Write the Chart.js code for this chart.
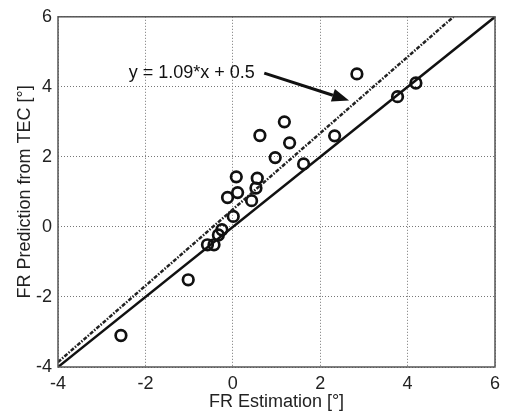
<!DOCTYPE html>
<html>
<head>
<meta charset="utf-8">
<title>FR Estimation vs Prediction</title>
<script src="https://cdn.jsdelivr.net/npm/chart.js@4"></script>
<style>
  html, body { margin: 0; padding: 0; background: #fff; }
  #wrap { width: 508px; height: 417px; }
</style>
</head>
<body>
<div id="wrap"><canvas id="chart" width="508" height="417"></canvas></div>
<script>
// ===== DATA =====
// measured points: FR estimation (x) vs FR prediction from TEC (y), in degrees
const estX = [-2.56, -1.02, -0.58, -0.43, -0.33, -0.25, 0.01, -0.12, 0.11, 0.08, 0.43, 0.53, 0.56,
              0.62, 0.97, 1.18, 1.30, 1.62, 2.33, 2.84, 3.77, 4.19];
const predY = [-3.10, -1.51, -0.51, -0.51, -0.23, -0.08, 0.30, 0.84, 0.98, 1.43, 0.75, 1.11, 1.39,
               2.61, 1.98, 3.00, 2.40, 1.80, 2.60, 4.37, 3.72, 4.11];

// reference line y = x and fitted line y = 1.09*x + 0.5 (end points)
const identityX = [-4, 6];
const identityY = [-4, 6];
const fitX = [-4, 5.05];
const fitY = [-3.86, 6];

// axis ticks
const tickValues = [-4, -2, 0, 2, 4, 6];

// annotation text and arrow (data coords: start, tip)
const noteText = 'y = 1.09*x + 0.5';
const noteAt = [-2.38, 4.4];
const arrowFrom = [0.72, 4.39];
const arrowTo = [2.66, 3.61];

// ===== BUILD DATASETS =====
function toPoints(xs, ys) {
  return xs.map(function(x, i) { return { x: x, y: ys[i] }; });
}

const font = "'Liberation Sans', Arial, sans-serif";

// frame + annotation plugin
const framePlugin = {
  id: 'frame',
  afterDatasetsDraw: function(chart) {
    const ctx = chart.ctx;
    const a = chart.chartArea;
    const sx = chart.scales.x;
    const sy = chart.scales.y;
    ctx.save();
    ctx.strokeStyle = '#555';
    ctx.lineWidth = 1.5;
    ctx.setLineDash([]);
    ctx.strokeRect(a.left, a.top, a.right - a.left, a.bottom - a.top);

    // annotation text
    ctx.fillStyle = '#111';
    ctx.font = '18px ' + font;
    ctx.textAlign = 'left';
    ctx.textBaseline = 'middle';
    ctx.fillText(noteText, sx.getPixelForValue(noteAt[0]), sy.getPixelForValue(noteAt[1]));

    // arrow
    const x1 = sx.getPixelForValue(arrowFrom[0]);
    const y1 = sy.getPixelForValue(arrowFrom[1]);
    const x2 = sx.getPixelForValue(arrowTo[0]);
    const y2 = sy.getPixelForValue(arrowTo[1]);
    const ang = Math.atan2(y2 - y1, x2 - x1);
    const headLen = 17;
    const headW = 6.5;
    const bx = x2 - headLen * Math.cos(ang);
    const by = y2 - headLen * Math.sin(ang);
    ctx.strokeStyle = '#111';
    ctx.lineWidth = 3;
    ctx.beginPath();
    ctx.moveTo(x1, y1);
    ctx.lineTo(bx, by);
    ctx.stroke();
    ctx.fillStyle = '#111';
    ctx.beginPath();
    ctx.moveTo(x2, y2);
    ctx.lineTo(bx + headW * Math.sin(ang), by - headW * Math.cos(ang));
    ctx.lineTo(bx - headW * Math.sin(ang), by + headW * Math.cos(ang));
    ctx.closePath();
    ctx.fill();
    ctx.restore();
  }
};

// ===== DRAW THE CHART =====
const ctx = document.getElementById('chart').getContext('2d');

new Chart(ctx, {
  type: 'scatter',
  data: {
    datasets: [
      {
        label: 'y = 1.09*x + 0.5',
        data: toPoints(fitX, fitY),
        showLine: true,
        borderColor: '#222',
        borderWidth: 2.5,
        borderDash: [4, 1.5, 1.5, 1.5],
        pointRadius: 0,
        fill: false
      },
      {
        label: 'y = x',
        data: toPoints(identityX, identityY),
        showLine: true,
        borderColor: '#111',
        borderWidth: 2.5,
        pointRadius: 0,
        fill: false
      },
      {
        label: 'data',
        data: toPoints(estX, predY),
        showLine: false,
        pointStyle: 'circle',
        pointRadius: 5.3,
        pointBorderWidth: 2.7,
        pointBorderColor: '#111',
        pointBackgroundColor: 'rgba(0,0,0,0)'
      }
    ]
  },
  options: {
    responsive: false,
    animation: false,
    layout: { padding: { top: 11, right: 13, left: 0, bottom: 0 } },
    plugins: {
      legend: { display: false },
      tooltip: { enabled: false }
    },
    scales: {
      x: {
        type: 'linear',
        min: -4,
        max: 6,
        afterBuildTicks: function(axis) {
          axis.ticks = tickValues.map(function(v) { return { value: v }; });
        },
        afterFit: function(axis) { axis.height = 50; },
        grid: {
          color: '#777',
          lineWidth: 1,
          tickLength: 0,
          drawTicks: false
        },
        border: { display: false, dash: [1, 2] },
        ticks: {
          color: '#222',
          font: { family: font, size: 18 },
          padding: 6,
          maxRotation: 0
        },
        title: {
          display: true,
          text: 'FR Estimation [°]',
          color: '#222',
          font: { family: font, size: 18 },
          padding: { top: 0, bottom: 4 }
        }
      },
      y: {
        type: 'linear',
        min: -4,
        max: 6,
        afterBuildTicks: function(axis) {
          axis.ticks = tickValues.map(function(v) { return { value: v }; });
        },
        afterFit: function(axis) { axis.width = 58; },
        grid: {
          color: '#777',
          lineWidth: 1,
          tickLength: 0,
          drawTicks: false
        },
        border: { display: false, dash: [1, 2] },
        ticks: {
          color: '#222',
          font: { family: font, size: 18 },
          padding: 6
        },
        title: {
          display: true,
          text: 'FR Prediction from TEC [°]',
          color: '#222',
          font: { family: font, size: 18 },
          padding: { top: 14, bottom: 6 }
        }
      }
    }
  },
  plugins: [framePlugin]
});
</script>
</body>
</html>
